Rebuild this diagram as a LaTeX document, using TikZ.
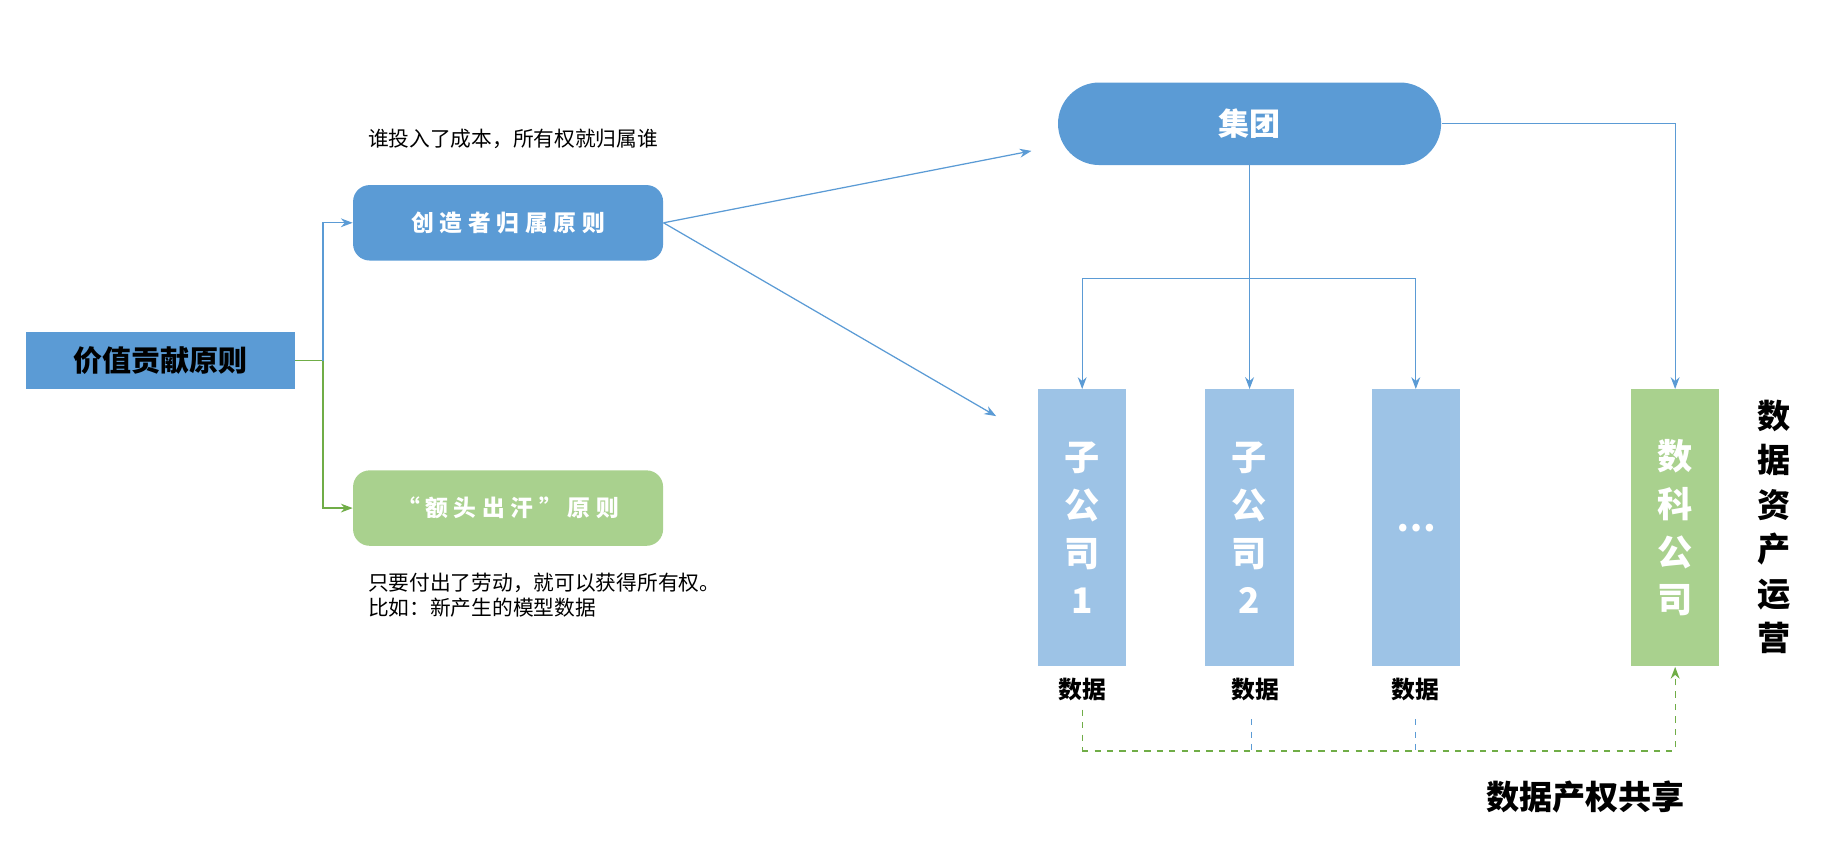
\documentclass[tikz,border=0pt]{standalone}
\usepackage{fontspec}
\setmainfont{Noto Sans CJK SC}
\usetikzlibrary{arrows.meta,positioning}
\definecolor{blueA}{HTML}{5B9BD5}
\definecolor{blueB}{HTML}{9DC3E6}
\definecolor{greenA}{HTML}{A9D18E}
\definecolor{greenL}{HTML}{70AD47}
\begin{document}
\begin{tikzpicture}[x=0.02cm,y=-0.02cm,
    principle_box/.style={
      rectangle,
      rounded corners=8pt,
      minimum width=263*0.02cm,
      minimum height=64*0.02cm,
      text=white,
      font=\fontsize{11}{13}\bfseries\addfontfeature{LetterSpace=25}},
    company_box/.style={
      rectangle,
      fill=blueB,
      text=white,
      minimum width=75*0.02cm,
      minimum height=235*0.02cm,
      align=center,
      font=\fontsize{17}{23}\bfseries},
    data_label/.style={
      font=\fontsize{11.5}{13}\bfseries},
    note_text/.style={
      font=\fontsize{15}{19},
      align=left},
    arrow_blue/.style={
      -Stealth,
      draw=blueA,
      line width=0.6pt},
    arrow_green/.style={
      -Stealth,
      draw=greenL,
      line width=0.6pt}
]
  \useasboundingbox (0,0) rectangle (1560,736);

  % left side
  \node[rectangle,fill=blueA,minimum width=228*0.02cm,minimum height=48*0.02cm,
        font=\fontsize{14}{16}\bfseries] (value) at (136,306) {价值贡献原则};
  \node[principle_box,fill=blueA] (creator) at (431,189) {创造者归属原则};
  \node[principle_box,fill=greenA] (sweat) at (431,431) {“额头出汗”原则};
  \coordinate (fork) at (274,306);

  \draw[greenL,line width=0.6pt] (value.east) -- (fork);
  \draw[arrow_blue] (fork) |- (creator.west);
  \draw[arrow_green] (fork) |- (sweat.west);

  \node[note_text,anchor=west] (costnote) at (306,118) {谁投入了成本，所有权就归属谁};
  \node[note_text,anchor=north west] (labornote) at (306,480)
    {只要付出了劳动，就可以获得所有权。\\比如：新产生的模型数据};

  % right side
  \node[rectangle,rounded corners=35*0.02cm,fill=blueA,text=white,
        minimum width=325*0.02cm,minimum height=70*0.02cm,
        font=\fontsize{15}{17}\bfseries] (group) at (1060,105) {集团};

  \node[company_box,anchor=north] (sub1) at (918,330) {子\\公\\司\\1};
  \node[company_box,anchor=north] (sub2) at (1060,330) {子\\公\\司\\2};
  \node[company_box,anchor=north] (subn) at (1201,330) {…};
  \node[company_box,anchor=north,fill=greenA] (tech) at (1421,330) {数\\科\\公\\司};

  \coordinate (split) at (1060,236);
  \draw[blueA,line width=0.6pt] (group.south) -- (split);
  \draw[arrow_blue] (split) -- (sub2.north);
  \draw[arrow_blue] (split) -| (sub1.north);
  \draw[arrow_blue] (split) -| (subn.north);
  \draw[arrow_blue] (group.east) -| (tech.north);

  \coordinate (upper) at (875,128);
  \coordinate (lower) at (845,353);
  \draw[arrow_blue] (creator.east) -- (upper);
  \draw[arrow_blue] (creator.east) -- (lower);

  \node[data_label] (data1) at (918,585) {数据};
  \node[data_label] (data2) at (1065,585) {数据};
  \node[data_label] (datan) at (1201,585) {数据};

  \coordinate (share1) at (918,637);
  \coordinate (share2) at (1062,637);
  \coordinate (sharen) at (1201,637);
  \draw[greenL,dashed,line width=0.6pt] (918,602) -- (share1);
  \draw[blueA,dashed,line width=0.5pt] (1062,610) -- (share2);
  \draw[blueA,dashed,line width=0.5pt] (1201,610) -- (sharen);
  \draw[arrow_green,dashed] (share1) -| (tech.south);

  \node[align=center,font=\fontsize{16}{21.5}\bfseries] (operate) at (1505,447)
    {数\\据\\资\\产\\运\\营};
  \node[font=\fontsize{16}{18}\bfseries] (sharing) at (1345,676) {数据产权共享};
\end{tikzpicture}
\end{document}
